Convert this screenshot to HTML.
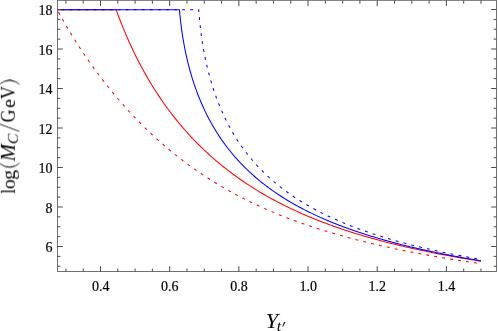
<!DOCTYPE html>
<html><head><meta charset="utf-8"><style>
html,body{margin:0;padding:0;background:#fff;}
body{width:498px;height:331px;overflow:hidden;font-family:"Liberation Serif",serif;}
svg{display:block;}
text{font-family:"Liberation Serif",serif;fill:#000;}
</style></head><body>
<svg width="498" height="331" viewBox="0 0 498 331">
<rect width="498" height="331" fill="#fff"/>
<g fill="none" stroke-width="1.05" stroke-linejoin="round">
<path d="M57.20 9.65 57.89 10.93 58.59 12.20 59.29 13.48 59.33 13.55 59.99 14.76 60.70 16.03 61.41 17.31 61.46 17.39 62.13 18.59 62.85 19.86 63.58 21.14 63.59 21.16 64.31 22.42 65.05 23.69 65.72 24.85 65.79 24.97 66.53 26.25 67.28 27.52 67.85 28.48 68.04 28.80 68.80 30.08 69.56 31.35 69.98 32.05 70.33 32.63 71.10 33.91 71.88 35.18 72.11 35.55 72.67 36.46 73.45 37.74 74.24 38.99 74.25 39.01 75.05 40.29 75.85 41.57 76.37 42.38 76.66 42.84 77.48 44.12 78.30 45.40 78.50 45.71 79.12 46.67 79.95 47.95 80.63 48.98 80.79 49.23 81.63 50.50 82.47 51.78 82.76 52.20 83.33 53.06 84.18 54.33 84.89 55.37 85.05 55.61 85.92 56.89 86.79 58.16 87.01 58.49 87.67 59.44 88.56 60.72 89.14 61.56 89.45 61.99 90.35 63.27 91.25 64.55 91.27 64.58 92.16 65.82 93.07 67.10 93.40 67.56 94.00 68.38 94.92 69.65 95.53 70.49 95.86 70.93 96.80 72.21 97.66 73.37 97.74 73.48 98.70 74.76 99.66 76.03 99.79 76.22 100.62 77.31 101.59 78.59 101.92 79.02 102.57 79.86 103.56 81.14 104.05 81.78 104.55 82.42 105.55 83.69 106.18 84.49 106.56 84.97 107.57 86.25 108.31 87.17 108.59 87.52 109.62 88.80 110.44 89.81 110.65 90.08 111.70 91.35 112.57 92.42 112.75 92.63 113.80 93.91 114.70 94.98 114.87 95.18 115.94 96.46 116.83 97.51 117.02 97.74 118.11 99.01 118.96 100.00 119.21 100.29 120.31 101.57 121.09 102.46 121.42 102.84 122.55 104.12 123.22 104.88 123.67 105.40 124.81 106.67 125.35 107.27 125.96 107.95 127.12 109.23 127.48 109.63 128.28 110.50 129.45 111.78 129.61 111.95 130.64 113.06 131.74 114.24 131.83 114.33 133.03 115.61 133.87 116.49 134.24 116.89 135.46 118.16 136.00 118.72 136.69 119.44 137.93 120.72 138.13 120.91 139.18 121.99 140.26 123.08 140.45 123.27 141.72 124.55 142.38 125.21 143.00 125.82 144.29 127.10 144.51 127.32 145.60 128.38 146.64 129.39 146.92 129.65 148.24 130.93 148.77 131.44 149.58 132.21 150.90 133.46 150.93 133.48 152.30 134.76 153.03 135.44 153.67 136.04 155.06 137.31 155.16 137.41 156.46 138.59 157.29 139.34 157.88 139.87 159.30 141.14 159.42 141.25 160.75 142.42 161.55 143.13 162.20 143.70 163.67 144.97 163.68 144.98 165.15 146.25 165.81 146.81 166.65 147.53 167.94 148.62 168.16 148.80 169.69 150.08 170.07 150.39 171.24 151.36 172.20 152.15 172.80 152.63 174.33 153.88 174.37 153.91 175.97 155.19 176.46 155.58 177.58 156.46 178.59 157.26 179.20 157.74 180.72 158.92 180.85 159.02 182.51 160.29 182.85 160.55 184.19 161.57 184.98 162.16 185.89 162.85 187.11 163.75 187.61 164.12 189.24 165.31 189.36 165.40 191.12 166.68 191.37 166.86 192.90 167.95 193.50 168.38 194.70 169.23 195.62 169.88 196.53 170.51 197.75 171.36 198.37 171.78 199.88 172.81 200.25 173.06 202.02 174.25 202.14 174.34 204.06 175.61 204.15 175.67 206.00 176.89 206.27 177.07 207.97 178.17 208.40 178.44 209.97 179.44 210.53 179.80 211.99 180.72 212.66 181.14 214.04 182.00 214.79 182.46 216.12 183.27 216.92 183.76 218.23 184.55 219.05 185.04 220.37 185.83 221.18 186.31 222.54 187.10 223.31 187.55 224.74 188.38 225.44 188.78 226.97 189.66 227.57 189.99 229.24 190.93 229.70 191.19 231.54 192.21 231.83 192.37 233.88 193.49 233.96 193.53 236.09 194.68 236.25 194.76 238.22 195.80 238.66 196.04 240.35 196.92 241.12 197.32 242.47 198.01 243.61 198.59 244.60 199.10 246.14 199.87 246.73 200.17 248.72 201.14 248.87 201.22 251.00 202.26 251.33 202.42 253.12 203.28 254.00 203.70 255.25 204.29 256.71 204.97 257.38 205.29 259.47 206.25 259.52 206.27 261.64 207.24 262.28 207.53 263.77 208.19 265.15 208.80 265.90 209.14 268.03 210.07 268.06 210.08 270.16 210.99 271.03 211.36 272.29 211.89 274.06 212.63 274.42 212.78 276.55 213.67 277.15 213.91 278.68 214.53 280.30 215.19 280.81 215.39 282.94 216.24 283.51 216.46 285.06 217.07 286.79 217.74 287.20 217.90 289.33 218.71 290.13 219.02 291.45 219.51 293.55 220.29 293.59 220.31 295.71 221.09 297.04 221.57 297.84 221.86 299.97 222.62 300.60 222.85 302.10 223.38 304.24 224.12 304.25 224.12 306.36 224.85 307.97 225.40 308.49 225.58 310.62 226.29 311.78 226.68 312.75 227.00 314.88 227.70 315.68 227.95 317.01 228.38 319.14 229.06 319.67 229.23 321.26 229.73 323.40 230.40 323.75 230.51 325.52 231.05 327.66 231.70 327.93 231.78 329.78 232.34 331.92 232.97 332.22 233.06 334.04 233.60 336.18 234.21 336.61 234.34 338.30 234.82 340.44 235.43 341.11 235.61 342.56 236.02 344.69 236.61 345.73 236.89 346.82 237.19 348.95 237.76 350.46 238.17 351.08 238.33 353.21 238.89 355.33 239.44 355.35 239.45 357.46 239.99 359.60 240.54 360.32 240.72 361.73 241.07 363.85 241.60 365.45 242.00 365.99 242.13 368.11 242.64 370.25 243.16 370.73 243.27 372.37 243.66 374.50 244.17 376.15 244.55 376.64 244.66 378.76 245.15 380.90 245.64 381.73 245.83 383.02 246.12 385.15 246.59 387.29 247.07 387.47 247.10 389.41 247.53 391.54 247.99 393.38 248.38 393.68 248.44 395.79 248.89 397.93 249.34 399.47 249.66 400.07 249.78 402.18 250.21 404.32 250.65 405.74 250.93 406.45 251.08 408.57 251.50 410.70 251.92 412.21 252.21 412.84 252.33 414.96 252.74 417.09 253.15 418.88 253.49 419.23 253.55 421.34 253.95 423.48 254.34 425.63 254.74 425.77 254.76 427.74 255.12 429.86 255.50 432.01 255.88 432.88 256.04 434.13 256.26 436.25 256.63 438.38 257.00 440.23 257.32 440.53 257.37 442.64 257.73 444.77 258.08 446.91 258.44 447.83 258.59 449.04 258.79 451.15 259.14 453.29 259.49 455.44 259.83 455.68 259.87 457.55 260.17 459.67 260.50 461.81 260.84 463.81 261.15 463.96 261.17 466.06 261.49 468.19 261.82 470.33 262.14 472.23 262.42 472.48 262.46 474.58 262.77 476.70 263.08 478.84 263.40 480.95 263.70" stroke="#f00" stroke-dasharray="2.9 5.15" stroke-dashoffset="5.45"/>
<path d="M57.50 9.65 L116.10 9.65 116.10 9.66 116.56 10.91 117.02 12.18 117.49 13.44 117.93 14.63 117.96 14.71 118.44 15.97 118.92 17.23 119.40 18.50 119.77 19.45 119.89 19.76 120.38 21.03 120.88 22.29 121.38 23.55 121.60 24.12 121.88 24.82 122.39 26.08 122.90 27.35 123.42 28.61 123.43 28.65 123.94 29.88 124.47 31.14 125.00 32.40 125.27 33.04 125.53 33.67 126.07 34.93 126.62 36.20 127.10 37.31 127.17 37.46 127.72 38.72 128.28 39.99 128.85 41.25 128.94 41.45 129.42 42.52 129.99 43.78 130.57 45.04 130.77 45.48 131.15 46.31 131.74 47.57 132.34 48.84 132.60 49.40 132.94 50.10 133.54 51.36 134.15 52.63 134.44 53.22 134.77 53.89 135.39 55.16 136.01 56.42 136.27 56.93 136.65 57.68 137.28 58.95 137.93 60.21 138.10 60.55 138.58 61.48 139.23 62.74 139.89 64.01 139.94 64.09 140.56 65.27 141.24 66.53 141.77 67.53 141.92 67.80 142.60 69.06 143.29 70.33 143.60 70.89 143.99 71.59 144.70 72.85 145.41 74.12 145.44 74.17 146.13 75.38 146.85 76.65 147.27 77.37 147.58 77.91 148.32 79.17 149.07 80.44 149.11 80.51 149.82 81.70 150.58 82.97 150.94 83.56 151.34 84.23 152.12 85.49 152.77 86.56 152.90 86.76 153.69 88.02 154.48 89.29 154.61 89.48 155.29 90.55 156.10 91.81 156.44 92.34 156.92 93.08 157.75 94.34 158.27 95.14 158.58 95.61 159.43 96.87 160.11 97.88 160.28 98.13 161.14 99.40 161.94 100.57 162.01 100.66 162.89 101.93 163.77 103.19 163.78 103.20 164.67 104.46 165.57 105.72 165.61 105.77 166.48 106.98 167.41 108.25 167.44 108.30 168.34 109.51 169.28 110.77 169.28 110.78 170.23 112.04 171.11 113.19 171.19 113.30 172.16 114.57 172.94 115.57 173.15 115.83 174.14 117.10 174.78 117.90 175.14 118.36 176.15 119.62 176.61 120.19 177.17 120.89 178.21 122.15 178.44 122.44 179.25 123.42 180.28 124.64 180.31 124.68 181.38 125.94 182.11 126.80 182.46 127.21 183.55 128.47 183.94 128.93 184.65 129.74 185.77 131.00 185.78 131.01 186.90 132.26 187.61 133.06 188.04 133.53 189.19 134.79 189.45 135.07 190.36 136.06 191.28 137.05 191.54 137.32 192.73 138.59 193.11 138.99 193.93 139.85 194.95 140.90 195.16 141.11 196.39 142.38 196.78 142.77 197.64 143.64 198.61 144.62 198.90 144.91 200.18 146.17 200.45 146.43 201.48 147.43 202.28 148.21 202.79 148.70 204.11 149.96 204.12 149.97 205.45 151.23 205.95 151.69 206.81 152.49 207.78 153.38 208.19 153.75 209.58 155.02 209.62 155.05 210.99 156.28 211.45 156.69 212.41 157.55 213.28 158.31 213.86 158.81 215.12 159.90 215.32 160.07 216.81 161.34 216.95 161.46 218.31 162.60 218.78 163.00 219.83 163.87 220.62 164.52 221.37 165.13 222.45 166.01 222.93 166.39 224.29 167.48 224.51 167.66 226.12 168.92 226.12 168.92 227.74 170.19 227.95 170.35 229.39 171.45 229.79 171.75 231.06 172.72 231.62 173.13 232.76 173.98 233.45 174.49 234.48 175.24 235.29 175.83 236.22 176.51 237.12 177.15 237.99 177.77 238.95 178.45 239.78 179.04 240.79 179.73 241.60 180.30 242.62 181.00 243.45 181.56 244.45 182.24 245.32 182.83 246.29 183.47 247.23 184.09 248.12 184.68 249.16 185.36 249.95 185.87 251.12 186.62 251.79 187.05 253.11 187.88 253.62 188.20 255.14 189.15 255.46 189.35 257.19 190.41 257.29 190.47 259.12 191.58 259.28 191.68 260.96 192.68 261.40 192.94 262.79 193.76 263.56 194.20 264.62 194.82 265.75 195.47 266.46 195.87 267.98 196.73 268.29 196.91 270.13 197.93 270.25 198.00 271.96 198.94 272.55 199.26 273.79 199.93 274.90 200.52 275.62 200.91 277.29 201.79 277.46 201.88 279.29 202.83 279.72 203.05 281.12 203.77 282.19 204.32 282.96 204.70 284.71 205.58 284.80 205.62 286.63 206.53 287.28 206.84 288.46 207.42 289.89 208.11 290.30 208.30 292.13 209.17 292.55 209.37 293.96 210.03 295.27 210.64 295.80 210.88 297.63 211.72 298.04 211.90 299.46 212.54 300.86 213.17 301.30 213.36 303.13 214.16 303.74 214.43 304.96 214.96 306.67 215.69 306.80 215.75 308.63 216.52 309.67 216.96 310.46 217.29 312.30 218.04 312.73 218.22 314.13 218.79 315.86 219.49 315.97 219.53 317.80 220.26 319.05 220.75 319.63 220.98 321.46 221.69 322.31 222.01 323.30 222.39 325.13 223.08 325.65 223.28 326.96 223.77 328.80 224.45 329.06 224.54 330.63 225.12 332.47 225.78 332.54 225.81 334.30 226.43 336.11 227.07 336.14 227.08 337.96 227.71 339.77 228.33 339.81 228.35 341.63 228.97 343.47 229.59 343.51 229.60 345.30 230.19 347.14 230.80 347.34 230.86 348.96 231.39 350.80 231.98 351.26 232.13 352.63 232.56 354.47 233.14 355.29 233.39 356.30 233.70 358.13 234.26 359.42 234.65 359.97 234.82 361.80 235.37 363.65 235.92 363.65 235.92 365.46 236.45 367.30 236.98 368.00 237.18 369.13 237.51 370.97 238.03 372.47 238.45 372.81 238.54 374.63 239.05 376.47 239.55 377.06 239.71 378.30 240.05 380.13 240.54 381.77 240.97 381.98 241.03 383.80 241.51 385.64 241.99 386.62 242.24 387.47 242.46 389.30 242.92 391.14 243.39 391.61 243.50 392.97 243.84 394.80 244.29 396.65 244.74 396.75 244.77 398.47 245.18 400.30 245.62 402.05 246.03 402.15 246.06 403.97 246.48 405.80 246.91 407.50 247.30 407.65 247.33 409.47 247.74 411.30 248.15 413.13 248.56 413.15 248.57 414.97 248.96 416.80 249.36 418.65 249.76 418.93 249.82 420.47 250.15 422.30 250.54 424.15 250.93 424.93 251.09 425.98 251.30 427.80 251.68 429.64 252.05 431.12 252.35 431.49 252.43 433.30 252.79 435.13 253.15 436.98 253.51 437.52 253.62 438.81 253.86 440.63 254.21 442.47 254.56 444.14 254.88 444.32 254.91 446.14 255.25 447.96 255.59 449.81 255.93 451.00 256.14 451.65 256.26 453.47 256.59 455.30 256.91 457.15 257.24 458.10 257.41 458.98 257.56 460.80 257.88 462.63 258.19 464.48 258.51 465.46 258.67 466.32 258.82 468.13 259.12 469.96 259.42 471.81 259.73 473.10 259.94 473.66 260.03 475.47 260.32 477.30 260.61 479.14 260.90 481.00 261.20 481.03 261.20" stroke="#f00"/>
<path d="M57.50 9.65 L198.71 9.65 198.80 10.91 198.90 12.16 199.00 13.42 199.10 14.67 199.21 15.93 199.32 17.18 199.43 18.44 199.55 19.69 199.67 20.95 199.80 22.20 199.93 23.46 200.06 24.71 200.12 25.22 200.20 25.97 200.34 27.22 200.49 28.48 200.64 29.73 200.79 30.99 200.95 32.24 201.12 33.50 201.28 34.75 201.45 36.01 201.54 36.60 201.63 37.26 201.81 38.52 202.00 39.77 202.19 41.03 202.38 42.28 202.58 43.54 202.78 44.79 202.96 45.84 202.99 46.05 203.20 47.30 203.42 48.56 203.64 49.81 203.87 51.07 204.10 52.32 204.34 53.58 204.37 53.75 204.58 54.83 204.83 56.09 205.08 57.34 205.34 58.60 205.60 59.85 205.79 60.73 205.87 61.11 206.15 62.36 206.43 63.62 206.71 64.87 207.00 66.13 207.21 67.01 207.30 67.38 207.60 68.64 207.91 69.89 208.22 71.15 208.54 72.40 208.63 72.74 208.87 73.66 209.20 74.91 209.54 76.17 209.88 77.42 210.05 78.01 210.23 78.68 210.59 79.93 210.95 81.19 211.32 82.44 211.47 82.92 211.70 83.70 212.09 84.95 212.48 86.21 212.87 87.46 212.89 87.50 213.28 88.72 213.69 89.97 214.11 91.23 214.30 91.80 214.53 92.48 214.97 93.74 215.41 94.99 215.72 95.87 215.86 96.25 216.31 97.50 216.78 98.76 217.14 99.72 217.25 100.01 217.73 101.27 218.22 102.52 218.56 103.38 218.72 103.78 219.22 105.03 219.74 106.29 219.98 106.87 220.26 107.54 220.79 108.80 221.33 110.05 221.40 110.20 221.88 111.31 222.44 112.56 222.82 113.39 223.01 113.82 223.59 115.07 224.17 116.33 224.23 116.45 224.77 117.58 225.38 118.84 225.65 119.39 226.00 120.09 226.63 121.35 227.07 122.22 227.26 122.60 227.91 123.86 228.49 124.95 228.57 125.11 229.25 126.37 229.91 127.59 229.93 127.62 230.62 128.88 231.33 130.13 231.33 130.13 232.05 131.39 232.75 132.59 232.78 132.64 233.52 133.90 234.16 134.97 234.27 135.15 235.04 136.41 235.58 137.28 235.82 137.66 236.62 138.92 237.00 139.52 237.42 140.17 238.24 141.43 238.42 141.69 239.08 142.68 239.84 143.81 239.93 143.94 240.79 145.19 241.26 145.86 241.67 146.45 242.57 147.70 242.68 147.86 243.47 148.96 244.09 149.80 244.40 150.21 245.34 151.47 245.51 151.69 246.30 152.72 246.93 153.54 247.27 153.98 248.27 155.23 248.35 155.34 249.27 156.49 249.77 157.09 250.30 157.74 251.19 158.81 251.35 159.00 252.41 160.25 252.61 160.48 253.49 161.51 254.02 162.11 254.60 162.76 255.44 163.71 255.72 164.02 256.86 165.27 256.86 165.28 258.02 166.53 258.28 166.80 259.21 167.78 259.70 168.29 260.41 169.04 261.12 169.76 261.64 170.29 262.53 171.19 262.89 171.55 263.95 172.59 264.17 172.80 265.37 173.97 265.47 174.06 266.79 175.31 266.79 175.32 268.14 176.57 268.21 176.63 269.51 177.82 269.63 177.93 270.91 179.08 271.05 179.20 272.34 180.33 272.47 180.44 273.79 181.59 273.88 181.67 275.28 182.84 275.30 182.87 276.72 184.04 276.79 184.10 278.14 185.20 278.33 185.35 279.56 186.34 279.90 186.61 280.97 187.45 281.51 187.86 282.39 188.55 283.14 189.12 283.81 189.63 284.81 190.37 285.23 190.69 286.51 191.63 286.65 191.73 288.07 192.75 288.25 192.88 289.49 193.76 290.03 194.14 290.90 194.75 291.84 195.39 292.32 195.73 293.69 196.65 293.75 196.69 295.16 197.63 295.58 197.90 296.58 198.56 297.50 199.16 298.00 199.48 299.42 200.38 299.47 200.41 300.83 201.26 301.49 201.67 302.25 202.14 303.54 202.92 303.67 203.00 305.09 203.85 305.65 204.18 306.51 204.69 307.79 205.43 307.93 205.51 309.35 206.32 309.99 206.69 310.76 207.12 312.19 207.92 312.24 207.94 313.60 208.69 314.54 209.20 315.02 209.46 316.44 210.22 316.89 210.45 317.86 210.96 319.28 211.70 319.29 211.71 320.69 212.43 321.75 212.96 322.11 213.15 323.53 213.85 324.27 214.22 324.95 214.55 326.37 215.24 326.85 215.47 327.78 215.92 329.21 216.59 329.50 216.73 330.62 217.25 332.05 217.91 332.20 217.98 333.46 218.56 334.88 219.20 334.98 219.24 336.29 219.82 337.72 220.45 337.82 220.49 339.13 221.06 340.56 221.67 340.73 221.75 341.97 222.27 343.39 222.87 343.72 223.00 344.81 223.45 346.23 224.03 346.79 224.26 347.64 224.60 349.06 225.17 349.93 225.51 350.48 225.73 351.90 226.28 353.16 226.77 353.32 226.83 354.73 227.37 356.16 227.91 356.47 228.02 357.57 228.43 358.99 228.96 359.87 229.28 360.41 229.48 361.83 229.98 363.26 230.49 363.37 230.53 364.66 230.99 366.08 231.49 366.96 231.79 367.51 231.98 368.92 232.46 370.35 232.94 370.65 233.04 371.76 233.41 373.18 233.88 374.44 234.30 374.60 234.35 376.01 234.81 377.43 235.26 378.35 235.55 378.85 235.72 380.27 236.16 381.69 236.60 382.36 236.81 383.11 237.04 384.52 237.47 385.95 237.90 386.49 238.06 387.36 238.32 388.78 238.74 390.20 239.16 390.75 239.32 391.62 239.57 393.03 239.98 394.46 240.38 395.13 240.57 395.88 240.78 397.29 241.18 398.71 241.57 399.65 241.83 400.13 241.96 401.54 242.35 402.96 242.73 404.30 243.08 404.39 243.11 405.80 243.48 407.22 243.85 408.65 244.22 409.10 244.34 410.06 244.58 411.47 244.94 412.89 245.30 414.06 245.59 414.32 245.66 415.73 246.01 417.14 246.36 418.57 246.71 419.17 246.85 419.99 247.05 421.40 247.39 422.82 247.72 424.25 248.06 424.45 248.10 425.66 248.39 427.07 248.71 428.50 249.04 429.90 249.36 429.93 249.37 431.33 249.68 432.74 250.00 434.17 250.31 435.54 250.61 435.60 250.63 437.00 250.94 438.42 251.24 439.84 251.55 441.28 251.85 441.36 251.87 442.68 252.15 444.09 252.44 445.51 252.74 446.95 253.03 447.39 253.12 448.36 253.32 449.77 253.61 451.18 253.89 452.61 254.18 453.63 254.38 454.04 254.46 455.44 254.74 456.86 255.01 458.28 255.29 459.71 255.56 460.10 255.63 461.12 255.83 462.53 256.10 463.95 256.36 465.38 256.63 466.80 256.89 466.81 256.89 468.21 257.15 469.62 257.41 471.04 257.66 472.47 257.92 473.74 258.14 473.90 258.17 475.30 258.42 476.71 258.67 478.13 258.91 479.56 259.16 480.95 259.40" stroke="#00f" stroke-dasharray="2.9 5.15" stroke-dashoffset="4.25"/>
<path d="M57.50 9.65 L179.41 9.65 179.52 10.91 179.63 12.17 179.75 13.44 179.87 14.70 180.00 15.96 180.13 17.22 180.26 18.48 180.40 19.75 180.55 21.01 180.69 22.27 180.85 23.53 180.92 24.10 181.00 24.79 181.16 26.06 181.33 27.32 181.50 28.58 181.67 29.84 181.85 31.11 182.03 32.37 182.22 33.63 182.41 34.89 182.43 35.00 182.61 36.15 182.81 37.42 183.02 38.68 183.23 39.94 183.45 41.20 183.67 42.46 183.90 43.73 183.95 44.00 184.13 44.99 184.37 46.25 184.61 47.51 184.85 48.77 185.11 50.04 185.36 51.30 185.46 51.76 185.63 52.56 185.90 53.82 186.17 55.08 186.45 56.35 186.74 57.61 186.98 58.66 187.03 58.87 187.32 60.13 187.63 61.39 187.93 62.66 188.25 63.92 188.49 64.88 188.57 65.18 188.90 66.44 189.23 67.70 189.57 68.97 189.91 70.23 190.01 70.58 190.26 71.49 190.62 72.75 190.99 74.02 191.36 75.28 191.52 75.84 191.73 76.54 192.12 77.80 192.51 79.06 192.91 80.33 193.04 80.74 193.31 81.59 193.72 82.85 194.14 84.11 194.56 85.33 194.57 85.37 195.01 86.64 195.45 87.90 195.90 89.16 196.07 89.64 196.35 90.42 196.82 91.68 197.29 92.95 197.59 93.73 197.77 94.21 198.26 95.47 198.76 96.73 199.10 97.60 199.26 97.99 199.78 99.26 200.30 100.52 200.62 101.28 200.83 101.78 201.37 103.04 201.92 104.30 202.13 104.79 202.48 105.57 203.04 106.83 203.62 108.09 203.65 108.16 204.21 109.35 204.80 110.61 205.16 111.37 205.41 111.88 206.02 113.14 206.65 114.40 206.68 114.47 207.28 115.66 207.93 116.93 208.19 117.44 208.59 118.19 209.25 119.45 209.71 120.30 209.93 120.71 210.62 121.97 211.23 123.06 211.32 123.24 212.04 124.50 212.74 125.73 212.76 125.76 213.50 127.02 214.24 128.28 214.26 128.31 215.00 129.55 215.77 130.80 215.78 130.81 216.56 132.07 217.29 133.22 217.36 133.33 218.17 134.59 218.80 135.56 219.00 135.86 219.84 137.12 220.32 137.83 220.69 138.38 221.56 139.64 221.83 140.04 222.44 140.90 223.33 142.17 223.35 142.19 224.25 143.43 224.87 144.28 225.17 144.69 226.11 145.95 226.38 146.31 227.07 147.21 227.90 148.29 228.05 148.48 229.04 149.74 229.41 150.21 230.04 151.00 230.93 152.09 231.07 152.26 232.11 153.52 232.44 153.93 233.17 154.79 233.96 155.72 234.25 156.05 235.34 157.31 235.48 157.46 236.46 158.57 236.99 159.17 237.59 159.84 238.51 160.84 238.75 161.10 239.92 162.36 240.02 162.47 241.12 163.62 241.54 164.06 242.33 164.88 243.05 165.62 243.57 166.15 244.57 167.15 244.83 167.41 246.09 168.64 246.11 168.67 247.42 169.93 247.60 170.11 248.75 171.19 249.11 171.54 250.10 172.46 250.63 172.94 251.48 173.72 252.14 174.32 252.88 174.98 253.66 175.67 254.31 176.24 255.18 177.00 255.76 177.50 256.69 178.30 257.25 178.77 258.21 179.57 258.76 180.03 259.72 180.82 260.30 181.29 261.24 182.05 261.86 182.55 262.75 183.26 263.46 183.81 264.27 184.44 265.09 185.08 265.78 185.61 266.75 186.34 267.30 186.75 268.44 187.60 268.82 187.88 270.17 188.86 270.33 188.98 271.85 190.07 271.92 190.12 273.36 191.14 273.72 191.39 274.88 192.19 275.55 192.65 276.39 193.22 277.41 193.91 277.91 194.24 279.32 195.17 279.43 195.24 280.94 196.23 281.26 196.43 282.45 197.20 283.24 197.70 283.97 198.15 285.27 198.96 285.49 199.10 287.00 200.02 287.33 200.22 288.52 200.93 289.44 201.48 290.03 201.83 291.55 202.72 291.60 202.75 293.06 203.59 293.80 204.01 294.58 204.45 296.05 205.27 296.10 205.30 297.61 206.13 298.34 206.53 299.12 206.96 300.65 207.77 300.69 207.79 302.16 208.57 303.09 209.06 303.67 209.36 305.19 210.14 305.54 210.32 306.70 210.91 308.05 211.58 308.22 211.67 309.73 212.41 310.61 212.84 311.25 213.15 312.77 213.88 313.24 214.10 314.28 214.60 315.80 215.31 315.92 215.37 317.31 216.01 318.67 216.63 318.83 216.70 320.34 217.38 321.48 217.89 321.86 218.06 323.37 218.72 324.36 219.15 324.89 219.38 326.40 220.03 327.31 220.41 327.92 220.67 329.43 221.31 330.33 221.68 330.95 221.93 332.47 222.55 333.43 222.94 333.98 223.16 335.50 223.77 336.60 224.20 337.02 224.36 338.53 224.95 339.85 225.46 340.05 225.54 341.56 226.11 343.08 226.69 343.18 226.72 344.59 227.25 346.11 227.81 346.61 227.99 347.62 228.35 349.14 228.90 350.11 229.25 350.65 229.44 352.16 229.97 353.69 230.50 353.72 230.51 355.20 231.02 356.72 231.54 357.42 231.77 358.23 232.05 359.74 232.55 361.21 233.03 361.27 233.05 362.77 233.54 364.29 234.03 365.11 234.30 365.81 234.52 367.32 234.99 368.84 235.47 369.12 235.56 370.35 235.94 371.87 236.40 373.25 236.82 373.39 236.86 374.90 237.32 376.41 237.77 377.48 238.08 377.93 238.22 379.44 238.65 380.96 239.09 381.84 239.34 382.48 239.53 383.99 239.95 385.51 240.38 386.33 240.61 387.03 240.80 388.53 241.21 390.05 241.63 390.95 241.87 391.57 242.04 393.08 242.44 394.60 242.84 395.71 243.13 396.12 243.24 397.63 243.63 399.14 244.02 400.61 244.39 400.67 244.41 402.17 244.79 403.69 245.17 405.21 245.55 405.66 245.66 406.72 245.92 408.23 246.28 409.75 246.65 410.87 246.92 411.28 247.01 412.78 247.37 414.30 247.73 415.82 248.08 416.25 248.18 417.33 248.43 418.84 248.77 420.36 249.12 421.79 249.44 421.89 249.46 423.39 249.80 424.90 250.13 426.42 250.47 427.52 250.70 427.95 250.80 429.45 251.12 430.96 251.44 432.49 251.77 433.44 251.97 434.01 252.09 435.51 252.40 437.02 252.71 438.55 253.02 439.55 253.23 440.07 253.33 441.57 253.63 443.08 253.94 444.61 254.24 445.88 254.49 446.14 254.54 447.64 254.83 449.14 255.13 450.67 255.42 452.20 255.71 452.42 255.75 453.70 255.99 455.21 256.28 456.72 256.56 458.25 256.84 459.20 257.01 459.77 257.12 461.27 257.39 462.78 257.66 464.30 257.94 465.84 258.21 466.21 258.28 467.34 258.48 468.85 258.74 470.36 259.00 471.88 259.26 473.42 259.53 473.48 259.54 474.92 259.78 476.42 260.03 477.94 260.29 479.46 260.54 481.00 260.80 481.02 260.80" stroke="#00f"/>
</g>
<g stroke="#585858" stroke-width="0.85" fill="none">
<rect x="57.5" y="0.3" width="439" height="271.2"/>
<g stroke="#484848" stroke-width="1"><path d="M65.91 271.50 v-2.90 M65.91 0.50 v3.20"/><path d="M83.20 271.50 v-2.90 M83.20 0.50 v3.20"/><path d="M100.50 271.50 v-5.30 M100.50 0.50 v5.60"/><path d="M117.79 271.50 v-2.90 M117.79 0.50 v3.20"/><path d="M135.09 271.50 v-2.90 M135.09 0.50 v3.20"/><path d="M152.38 271.50 v-2.90 M152.38 0.50 v3.20"/><path d="M169.68 271.50 v-5.30 M169.68 0.50 v5.60"/><path d="M186.97 271.50 v-2.90 M186.97 0.50 v3.20"/><path d="M204.27 271.50 v-2.90 M204.27 0.50 v3.20"/><path d="M221.56 271.50 v-2.90 M221.56 0.50 v3.20"/><path d="M238.86 271.50 v-5.30 M238.86 0.50 v5.60"/><path d="M256.15 271.50 v-2.90 M256.15 0.50 v3.20"/><path d="M273.45 271.50 v-2.90 M273.45 0.50 v3.20"/><path d="M290.75 271.50 v-2.90 M290.75 0.50 v3.20"/><path d="M308.04 271.50 v-5.30 M308.04 0.50 v5.60"/><path d="M325.33 271.50 v-2.90 M325.33 0.50 v3.20"/><path d="M342.63 271.50 v-2.90 M342.63 0.50 v3.20"/><path d="M359.92 271.50 v-2.90 M359.92 0.50 v3.20"/><path d="M377.22 271.50 v-5.30 M377.22 0.50 v5.60"/><path d="M394.51 271.50 v-2.90 M394.51 0.50 v3.20"/><path d="M411.81 271.50 v-2.90 M411.81 0.50 v3.20"/><path d="M429.10 271.50 v-2.90 M429.10 0.50 v3.20"/><path d="M446.40 271.50 v-5.30 M446.40 0.50 v5.60"/><path d="M463.69 271.50 v-2.90 M463.69 0.50 v3.20"/><path d="M480.99 271.50 v-2.90 M480.99 0.50 v3.20"/><path d="M57.50 266.25 h2.90 M496.50 266.25 h-2.90"/><path d="M57.50 256.38 h2.90 M496.50 256.38 h-2.90"/><path d="M57.50 246.50 h5.30 M496.50 246.50 h-5.30"/><path d="M57.50 236.62 h2.90 M496.50 236.62 h-2.90"/><path d="M57.50 226.75 h2.90 M496.50 226.75 h-2.90"/><path d="M57.50 216.88 h2.90 M496.50 216.88 h-2.90"/><path d="M57.50 207.00 h5.30 M496.50 207.00 h-5.30"/><path d="M57.50 197.12 h2.90 M496.50 197.12 h-2.90"/><path d="M57.50 187.25 h2.90 M496.50 187.25 h-2.90"/><path d="M57.50 177.38 h2.90 M496.50 177.38 h-2.90"/><path d="M57.50 167.50 h5.30 M496.50 167.50 h-5.30"/><path d="M57.50 157.62 h2.90 M496.50 157.62 h-2.90"/><path d="M57.50 147.75 h2.90 M496.50 147.75 h-2.90"/><path d="M57.50 137.88 h2.90 M496.50 137.88 h-2.90"/><path d="M57.50 128.00 h5.30 M496.50 128.00 h-5.30"/><path d="M57.50 118.12 h2.90 M496.50 118.12 h-2.90"/><path d="M57.50 108.25 h2.90 M496.50 108.25 h-2.90"/><path d="M57.50 98.38 h2.90 M496.50 98.38 h-2.90"/><path d="M57.50 88.50 h5.30 M496.50 88.50 h-5.30"/><path d="M57.50 78.62 h2.90 M496.50 78.62 h-2.90"/><path d="M57.50 68.75 h2.90 M496.50 68.75 h-2.90"/><path d="M57.50 58.88 h2.90 M496.50 58.88 h-2.90"/><path d="M57.50 49.00 h5.30 M496.50 49.00 h-5.30"/><path d="M57.50 39.12 h2.90 M496.50 39.12 h-2.90"/><path d="M57.50 29.25 h2.90 M496.50 29.25 h-2.90"/><path d="M57.50 19.38 h2.90 M496.50 19.38 h-2.90"/><path d="M57.50 9.50 h5.30 M496.50 9.50 h-5.30"/></g>
</g>
<g opacity="0.999">
<g font-size="14" stroke="#000" stroke-width="0.2"><text x="100.65" y="290.7" text-anchor="middle">0.4</text><text x="169.83" y="290.7" text-anchor="middle">0.6</text><text x="239.01" y="290.7" text-anchor="middle">0.8</text><text x="308.19" y="290.7" text-anchor="middle">1.0</text><text x="377.37" y="290.7" text-anchor="middle">1.2</text><text x="446.55" y="290.7" text-anchor="middle">1.4</text><text x="52.6" y="252.40" text-anchor="end">6</text><text x="52.6" y="212.90" text-anchor="end">8</text><text x="52.6" y="173.40" text-anchor="end">10</text><text x="52.6" y="133.90" text-anchor="end">12</text><text x="52.6" y="94.40" text-anchor="end">14</text><text x="52.6" y="54.90" text-anchor="end">16</text><text x="52.6" y="15.40" text-anchor="end">18</text></g>
<g transform="translate(14.85 193.4) rotate(-90)"><text transform="translate(-0.33 0.00) scale(0.797 1.000)" font-size="20.60">l</text><text transform="translate(4.36 0.00) scale(0.959 0.930)" font-size="20.60">o</text><text transform="translate(13.55 0.00) scale(0.976 0.930)" font-size="20.60">g</text><text transform="translate(32.06 0.00) scale(1.017 1.000)" font-size="20.60" font-style="italic">M</text><text transform="translate(49.34 3.00) scale(1.051 1.000)" font-size="14.83" font-style="italic">C</text><text transform="translate(71.09 0.00) scale(0.866 1.000)" font-size="20.60">G</text><text transform="translate(85.51 0.00) scale(0.958 0.930)" font-size="20.60">e</text><text transform="translate(94.22 0.00) scale(0.881 1.000)" font-size="20.60">V</text><path d="M30.3 -15.6 Q21.3 -5.35 30.3 4.9 Q22.8 -5.35 30.3 -15.6 Z" fill="#000" stroke="#000" stroke-width="0.3"/><path d="M109.0 -15.6 Q117.8 -5.35 109.0 4.9 Q116.3 -5.35 109.0 -15.6 Z" fill="#000" stroke="#000" stroke-width="0.3"/><path d="M62.0 4.5 L69.5 -15.6" stroke="#000" stroke-width="0.85" fill="none"/></g>
<text transform="translate(265.59 327.7) scale(1.097 1)" font-size="20.8" font-style="italic">Y</text><text transform="translate(276.67 330.6) scale(1.055 1)" font-size="15.40" font-style="italic">t</text><path d="M284.2 321.8 L285.4 322.3 L282.9 326.7 L282.4 326.5 Z" fill="#000"/>
</g>
</svg>
</body></html>
